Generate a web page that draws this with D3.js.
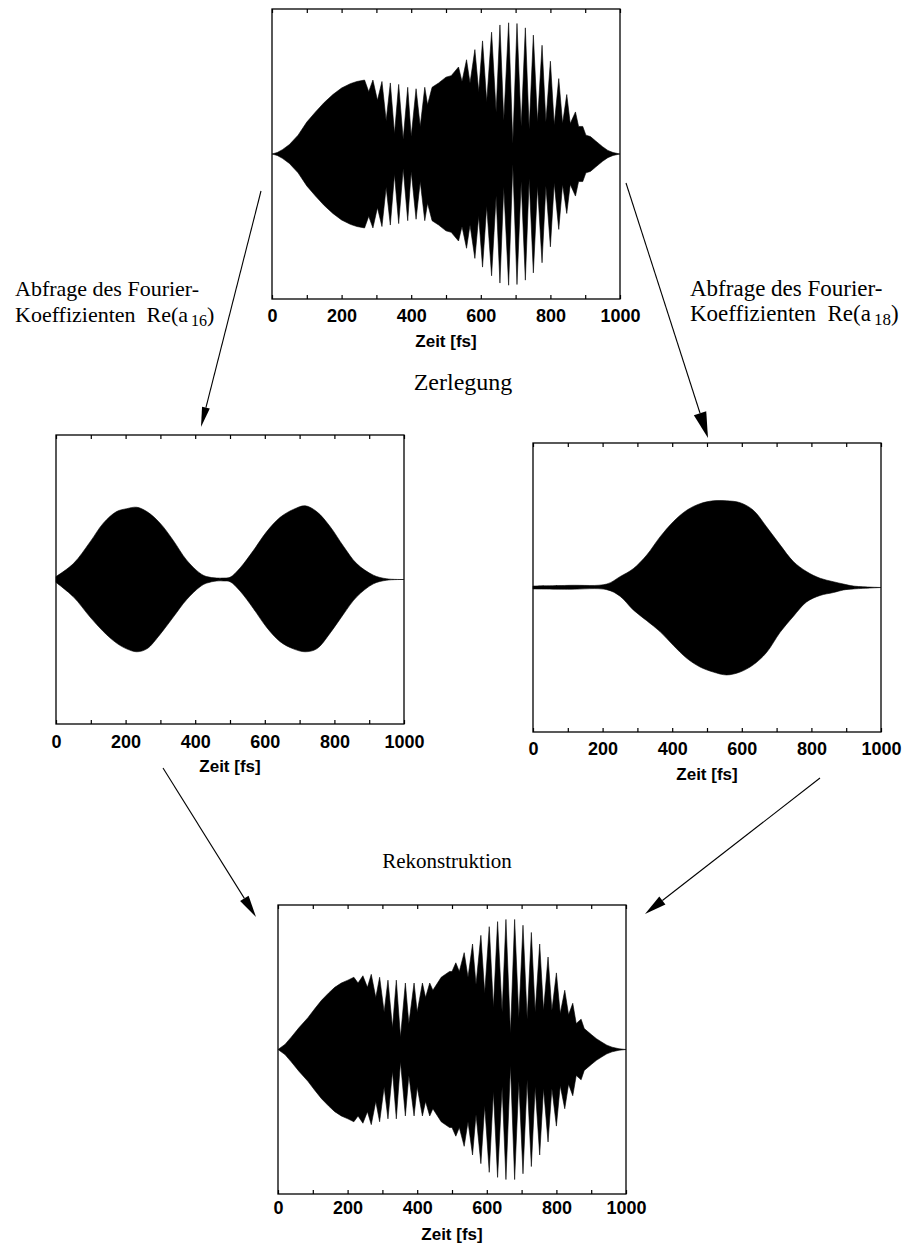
<!DOCTYPE html>
<html>
<head>
<meta charset="utf-8">
<script src="https://cdn.jsdelivr.net/npm/d3@7"></script>
<style>
  body { margin: 0; background: #fff; }
  svg { display: block; }
</style>
</head>
<body>
<svg id="chart" width="904" height="1247"></svg>
<script>
// time axis (fs)
const tickValues = [0, 100, 200, 300, 400, 500, 600, 700, 800, 900, 1000];
const labelValues = [0, 200, 400, 600, 800, 1000];

/// original signal (top) - envelope, symmetric ///
const origTime = [0, 15, 30, 50, 75, 100, 125, 150, 175, 200, 225, 244, 266, 278, 290, 303, 316, 328, 340, 352,
  364, 377, 390, 400, 414, 426, 439, 447, 460, 479, 500, 515, 536, 546, 559, 569, 583, 594, 605, 617,
  631, 644, 655, 666, 680, 692, 704, 716, 728, 739, 751, 763, 776, 787, 800, 811, 824, 835, 847, 857,
  872, 881, 893, 902, 915, 930, 950, 965, 980, 1000];
const origAmp = [0, 0.01, 0.03, 0.065, 0.13, 0.22, 0.29, 0.355, 0.41, 0.455, 0.485, 0.50, 0.51, 0.43, 0.51, 0.37, 0.50, 0.23, 0.49, 0.14,
  0.48, 0.10, 0.46, 0.12, 0.45, 0.19, 0.46, 0.34, 0.46, 0.49, 0.53, 0.54, 0.60, 0.50, 0.65, 0.49, 0.72, 0.43, 0.78, 0.36,
  0.84, 0.29, 0.89, 0.23, 0.905, 0.07, 0.90, 0.19, 0.87, 0.17, 0.82, 0.22, 0.75, 0.22, 0.64, 0.20, 0.52, 0.21, 0.41, 0.21,
  0.29, 0.19, 0.19, 0.13, 0.12, 0.09, 0.05, 0.025, 0.01, 0];

/// component Re(a16) ///
const a16Time = [0, 50, 98, 136, 174, 203, 232, 261, 299, 337, 375, 414, 433, 462, 481, 500, 529, 567, 605, 644,
  682, 716, 749, 788, 826, 864, 912, 950, 1000];
const a16Upper = [0.02, 0.11, 0.26, 0.39, 0.47, 0.49, 0.50, 0.47, 0.39, 0.27, 0.135, 0.043, 0.02, 0.01, 0.01, 0.015, 0.08, 0.20, 0.33, 0.43,
  0.485, 0.51, 0.47, 0.365, 0.23, 0.11, 0.03, 0.005, 0];
const a16Lower = [0.02, 0.12, 0.26, 0.36, 0.44, 0.48, 0.50, 0.48, 0.38, 0.26, 0.14, 0.05, 0.025, 0.01, 0.01, 0.015, 0.08, 0.20, 0.33, 0.43,
  0.48, 0.50, 0.48, 0.37, 0.24, 0.12, 0.03, 0.005, 0];

/// component Re(a18) ///
const a18Time = [0, 106, 212, 250, 288, 327, 365, 403, 442, 480, 518, 556, 595, 633, 671, 710, 748, 786, 825, 863,
  892, 921, 1000];
const a18Upper = [0.01, 0.015, 0.024, 0.075, 0.13, 0.225, 0.35, 0.455, 0.535, 0.58, 0.60, 0.60, 0.587, 0.535, 0.42, 0.295, 0.18, 0.11, 0.064, 0.04,
  0.024, 0.01, 0];
const a18Lower = [0.01, 0.012, 0.015, 0.06, 0.155, 0.23, 0.305, 0.40, 0.49, 0.55, 0.585, 0.605, 0.585, 0.535, 0.45, 0.31, 0.20, 0.10, 0.055, 0.035,
  0.017, 0.01, 0];

/// reconstruction (bottom) ///
const reconTime = [0, 20, 38, 60, 86, 105, 125, 145, 163, 182, 201, 218, 230, 244, 257, 268, 281, 292, 305, 316,
  329, 340, 352, 366, 376, 391, 400, 415, 424, 436, 445, 469, 493, 500, 511, 521, 535, 546, 559, 569,
  583, 594, 607, 619, 631, 644, 655, 668, 680, 692, 704, 716, 728, 739, 752, 763, 776, 787, 800, 811,
  824, 835, 847, 857, 871, 880, 902, 915, 931, 945, 960, 980, 1000];
const reconAmp = [0, 0.035, 0.085, 0.15, 0.22, 0.28, 0.34, 0.39, 0.43, 0.46, 0.48, 0.50, 0.46, 0.51, 0.43, 0.52, 0.36, 0.50, 0.26, 0.48,
  0.15, 0.48, 0.085, 0.46, 0.18, 0.46, 0.26, 0.46, 0.36, 0.46, 0.41, 0.50, 0.54, 0.54, 0.60, 0.54, 0.67, 0.50, 0.73, 0.45,
  0.79, 0.39, 0.85, 0.29, 0.885, 0.26, 0.90, 0.11, 0.90, 0.22, 0.86, 0.21, 0.81, 0.26, 0.73, 0.27, 0.64, 0.27, 0.53, 0.25,
  0.41, 0.24, 0.32, 0.18, 0.21, 0.145, 0.10, 0.075, 0.05, 0.03, 0.016, 0.005, 0];

const svg = d3.select("#chart");

function drawPanel(p) {
  let xScale = d3.scaleLinear().domain([0, 1000]).range([0, p.w]);
  let yScale = d3.scaleLinear().domain([-1, 1]).range([p.h, 0]);

  let g = svg.append("g").attr("transform", `translate(${p.x}, ${p.y})`);

  let rows = p.time.map((t, i) => ({ t: t, hi: p.upper[i], lo: p.lower[i] }));

  let area = d3.area()
    .x(d => xScale(d.t))
    .y0(d => yScale(-d.lo))
    .y1(d => yScale(d.hi))
    .curve(p.curve);

  g.append("path")
    .datum(rows)
    .attr("d", area)
    .attr("fill", "#000")
    .attr("stroke", "#000")
    .attr("stroke-width", 0.6);

  // bottom axis: ticks inside + bold labels
  let bottom = g.append("g")
    .attr("transform", `translate(0, ${p.h})`)
    .call(d3.axisBottom(xScale)
      .tickValues(tickValues)
      .tickSizeInner(-4)
      .tickSizeOuter(0)
      .tickFormat(d => labelValues.includes(d) ? d : ""));
  bottom.select(".domain").remove();
  bottom.selectAll("line").attr("stroke-width", 1.2);
  bottom.selectAll("text")
    .attr("y", p.labelDy)
    .attr("dy", null)
    .attr("fill", "#000")
    .style("font-family", "'Liberation Sans', Arial, sans-serif")
    .style("font-weight", "bold")
    .style("font-size", "18px");

  // top axis: ticks only
  let top = g.append("g")
    .call(d3.axisTop(xScale)
      .tickValues(tickValues)
      .tickSizeInner(-4)
      .tickSizeOuter(0)
      .tickFormat(""));
  top.select(".domain").remove();
  top.selectAll("line").attr("stroke-width", 1.2);

  // frame
  g.append("rect")
    .attr("width", p.w)
    .attr("height", p.h)
    .attr("fill", "none")
    .attr("stroke", "#000")
    .attr("stroke-width", 1.3);

  // x title
  g.append("text")
    .attr("x", p.w / 2)
    .attr("y", p.h + p.titleDy)
    .attr("text-anchor", "middle")
    .style("font-family", "'Liberation Sans', Arial, sans-serif")
    .style("font-weight", "bold")
    .style("font-size", "17px")
    .text("Zeit [fs]");
}

drawPanel({ x: 272, y: 9, w: 348, h: 290, time: origTime, upper: origAmp, lower: origAmp, curve: d3.curveLinear, labelDy: 23, titleDy: 48 });
drawPanel({ x: 56, y: 435, w: 348, h: 289, time: a16Time, upper: a16Upper, lower: a16Lower, curve: d3.curveCatmullRom, labelDy: 24, titleDy: 48 });
drawPanel({ x: 533, y: 443, w: 348, h: 289, time: a18Time, upper: a18Upper, lower: a18Lower, curve: d3.curveCatmullRom, labelDy: 23, titleDy: 48 });
drawPanel({ x: 278, y: 905, w: 348, h: 289, time: reconTime, upper: reconAmp, lower: reconAmp, curve: d3.curveLinear, labelDy: 20, titleDy: 46 });

/// arrows ///
function arrow(x1, y1, x2, y2, len, half) {
  let ang = Math.atan2(y2 - y1, x2 - x1);
  let bx = x2 - len * Math.cos(ang), by = y2 - len * Math.sin(ang);
  svg.append("line")
    .attr("x1", x1).attr("y1", y1)
    .attr("x2", bx).attr("y2", by)
    .attr("stroke", "#000")
    .attr("stroke-width", 1.1);
  let px = -Math.sin(ang) * half, py = Math.cos(ang) * half;
  svg.append("path")
    .attr("d", `M${x2},${y2}L${bx + px},${by + py}L${bx - px},${by - py}Z`)
    .attr("fill", "#000");
}
arrow(261, 191, 201, 427, 20, 4);
arrow(626, 183, 708, 438, 26, 6.5);
arrow(163, 768, 256, 917, 22, 5);
arrow(820, 778, 645, 914, 22, 5);

/// serif annotations ///
const serif = "'Liberation Serif', 'Times New Roman', serif";

function note(x, y1, y2, sub, size) {
  let t = svg.append("g").style("font-family", serif).style("font-size", size + "px");
  t.append("text").attr("x", x).attr("y", y1).text("Abfrage des Fourier-");
  let line = t.append("text").attr("x", x).attr("y", y2).attr("xml:space", "preserve");
  line.append("tspan").text("Koeffizienten  Re(a");
  line.append("tspan").attr("dx", 3).attr("dy", 4).style("font-size", (size - 6) + "px").text(sub);
  line.append("tspan").attr("dy", -4).text(")");
}
note(15, 296, 322, "16", 22);
note(690, 296, 321, "18", 23);

svg.append("text")
  .attr("x", 463).attr("y", 390)
  .attr("text-anchor", "middle")
  .style("font-family", serif)
  .style("font-size", "24px")
  .text("Zerlegung");

svg.append("text")
  .attr("x", 447).attr("y", 868)
  .attr("text-anchor", "middle")
  .style("font-family", serif)
  .style("font-size", "21px")
  .text("Rekonstruktion");
</script>
</body>
</html>
